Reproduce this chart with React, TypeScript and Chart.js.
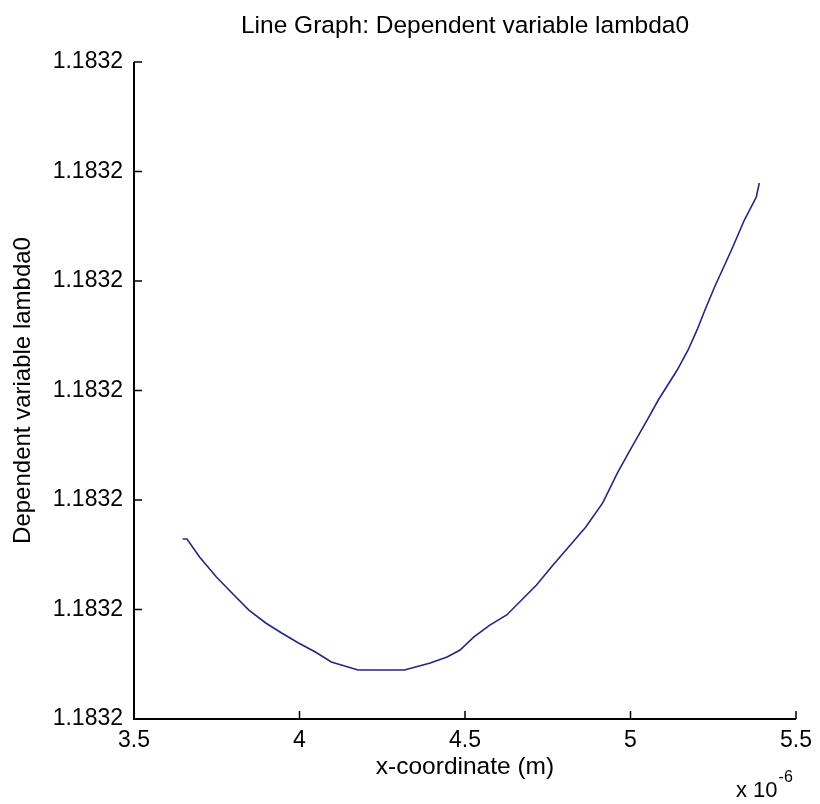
import React, { useEffect, useRef } from "react";
import { Chart, registerables } from "chart.js";

Chart.register(...registerables);

// x-coordinate in units of 1e-6 m
const xValues = [
  3.647, 3.660, 3.698, 3.749, 3.796, 3.847, 3.898, 3.946, 3.997, 4.048, 4.096,
  4.177, 4.251, 4.317, 4.395, 4.446, 4.485, 4.527, 4.575, 4.626, 4.716, 4.766,
  4.826, 4.865, 4.916, 4.961, 4.994, 5.024, 5.054, 5.084, 5.141, 5.174, 5.201,
  5.225, 5.254, 5.305, 5.344, 5.380, 5.389,
];
// lambda0, in tick units above the bottom tick (all ticks read 1.1832)
const yValues = [
  1.644, 1.644, 1.479, 1.297, 1.151, 0.995, 0.877, 0.785, 0.694, 0.612, 0.521,
  0.447, 0.447, 0.447, 0.511, 0.566, 0.630, 0.749, 0.858, 0.950, 1.224, 1.406,
  1.616, 1.753, 1.973, 2.250, 2.430, 2.590, 2.750, 2.913, 3.187, 3.370, 3.553,
  3.735, 3.945, 4.283, 4.557, 4.767, 4.895,
];

const xTicks = [3.5, 4, 4.5, 5, 5.5];
const xTickLabels = ["3.5", "4", "4.5", "5", "5.5"];
const yTicks = [0, 1, 2, 3, 4, 5, 6];
const yTickLabels = ["1.1832", "1.1832", "1.1832", "1.1832", "1.1832", "1.1832", "1.1832"];

const chartTitle = "Line Graph: Dependent variable lambda0";
const xTitle = "x-coordinate (m)";
const yTitle = "Dependent variable lambda0";
const xExponentBase = "x 10";
const xExponent = "-6";

const FONT = "'Liberation Sans', Arial, sans-serif";

const matlabAxesPlugin = {
  id: "matlabAxes",
  afterDraw(chart: any) {
    const ctx = chart.ctx;
    const { left, right, top, bottom } = chart.chartArea;
    const xs = chart.scales.x;
    const ys = chart.scales.y;
    ctx.save();
    ctx.strokeStyle = "#000";
    ctx.lineWidth = 2;
    ctx.beginPath();
    ctx.moveTo(left, top);
    ctx.lineTo(left, bottom);
    ctx.lineTo(right, bottom);
    ctx.stroke();
    ctx.lineWidth = 1.5;
    ctx.beginPath();
    xTicks.forEach((v) => {
      const px = xs.getPixelForValue(v);
      ctx.moveTo(px, bottom);
      ctx.lineTo(px, bottom - 8);
    });
    yTicks.forEach((v) => {
      const py = ys.getPixelForValue(v);
      ctx.moveTo(left, py);
      ctx.lineTo(left + 8, py);
    });
    ctx.stroke();

    ctx.fillStyle = "#000";
    ctx.textAlign = "center";
    ctx.textBaseline = "middle";
    ctx.font = `24.5px ${FONT}`;
    ctx.fillText(chartTitle, (left + right) / 2, 26);

    ctx.textAlign = "left";
    ctx.textBaseline = "alphabetic";
    ctx.font = `22px ${FONT}`;
    ctx.fillText(xExponentBase, 736, 797);
    const w = ctx.measureText(xExponentBase).width;
    ctx.font = `16px ${FONT}`;
    ctx.fillText(xExponent, 736 + w + 1, 782);
    ctx.restore();
  },
};

export default function App() {
  const ref = useRef<HTMLCanvasElement | null>(null);
  useEffect(() => {
    document.body.style.margin = "0";
    const canvas = ref.current;
    if (!canvas) return;
    const chart = new Chart(canvas, {
      type: "scatter",
      data: {
        datasets: [
          {
            data: xValues.map((x, i) => ({ x, y: yValues[i] })),
            showLine: true,
            borderColor: "#262680",
            borderWidth: 1.6,
            pointRadius: 0,
            fill: false,
            tension: 0,
          },
        ],
      },
      options: {
        responsive: false,
        animation: false,
        layout: { padding: { left: 0, right: 19, top: 62, bottom: 0 } },
        plugins: {
          legend: { display: false },
          tooltip: { enabled: false },
          title: { display: false },
        },
        scales: {
          x: {
            type: "linear",
            min: 3.5,
            max: 5.5,
            afterBuildTicks: (s: any) => {
              s.ticks = xTicks.map((v) => ({ value: v }));
            },
            afterFit: (s: any) => {
              s.height = 85;
            },
            ticks: {
              autoSkip: false,
              maxRotation: 0,
              padding: 8,
              color: "#000",
              font: { family: FONT, size: 23 },
              callback: (_v: any, i: number) => xTickLabels[i],
            },
            grid: { display: false, drawTicks: false },
            border: { display: false },
            title: {
              display: true,
              text: xTitle,
              color: "#000",
              font: { family: FONT, size: 24.5 },
              padding: { top: 0, bottom: 22 },
            },
          },
          y: {
            type: "linear",
            min: 0,
            max: 6,
            afterBuildTicks: (s: any) => {
              s.ticks = yTicks.map((v) => ({ value: v }));
            },
            afterFit: (s: any) => {
              s.width = 134;
            },
            ticks: {
              autoSkip: false,
              padding: 11,
              color: "#000",
              font: { family: FONT, size: 23 },
              callback: (_v: any, i: number) => yTickLabels[i],
            },
            grid: { display: false, drawTicks: false },
            border: { display: false },
            title: {
              display: true,
              text: yTitle,
              color: "#000",
              font: { family: FONT, size: 24 },
              padding: { top: 9, bottom: 0 },
            },
          },
        },
      },
      plugins: [matlabAxesPlugin],
    });
    return () => chart.destroy();
  }, []);
  return (
    <div style={{ position: "absolute", left: 0, top: 0, width: 820, height: 804, background: "#fff" }}>
      <canvas ref={ref} width={820} height={804} style={{ display: "block" }} />
    </div>
  );
}
